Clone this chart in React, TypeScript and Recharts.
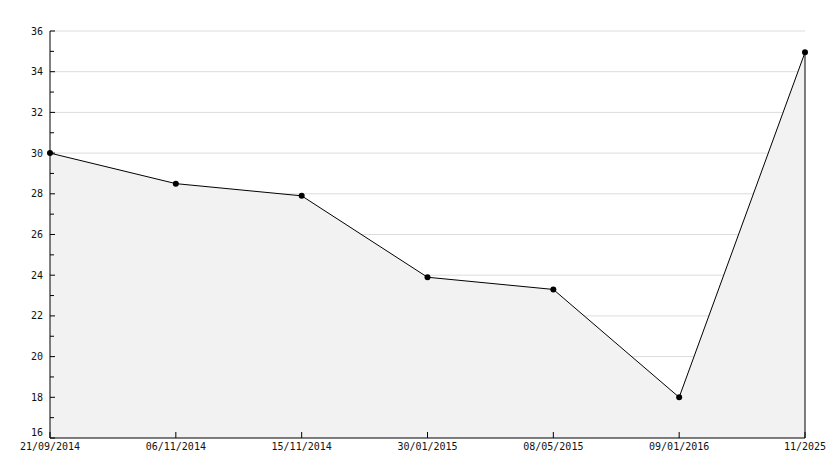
import { Area, AreaChart, CartesianGrid, ReferenceLine, XAxis, YAxis } from 'recharts'

const dates = ['21/09/2014', '06/11/2014', '15/11/2014', '30/01/2015', '08/05/2015', '09/01/2016', '11/2025']
const values = [30, 28.5, 27.9, 23.9, 23.3, 18, 34.95]
const yTicks = [16, 17, 18, 19, 20, 21, 22, 23, 24, 25, 26, 27, 28, 29, 30, 31, 32, 33, 34, 35, 36]
const gridValues = [18, 20, 22, 24, 26, 28, 30, 32, 34, 36]

const data = dates.map((d, i) => ({ date: d, value: values[i] }))
const last = data[data.length - 1]

const FONT = '"DejaVu Sans Mono", monospace'

function YTick(props: any) {
    const { x, y, payload } = props
    const v = payload.value as number
    const axisX = x + 7
    const major = v % 2 === 0
    return (
        <g>
            <line x1={axisX} x2={axisX + (major ? 5 : 4)} y1={y} y2={y} stroke="#000" />
            {major && (
                <text x={x} y={v === 16 ? y - 6 : y} dy="0.355em" textAnchor="end" fontSize={10} fontFamily={FONT} fill="#111">
                    {v}
                </text>
            )}
        </g>
    )
}

function XTick(props: any) {
    const { x, y, payload } = props
    const axisY = y - 5
    return (
        <g>
            <line x1={x} x2={x} y1={axisY} y2={axisY - 6} stroke="#000" />
            <text x={x} y={y} dy="0.71em" textAnchor="middle" fontSize={10} fontFamily={FONT} fill="#111">
                {payload.value}
            </text>
        </g>
    )
}

export default function App() {
    return (
        <div style={{ position: 'fixed', left: 0, top: 0, background: '#fff' }}>
            <AreaChart width={834} height={468} data={data} margin={{ top: 31, right: 29, bottom: 0, left: 0 }}>
                <CartesianGrid vertical={false} stroke="#dcdcdc" horizontalValues={gridValues} />
                <Area
                    type="linear"
                    dataKey="value"
                    stroke="#000"
                    strokeWidth={1}
                    fill="#f2f2f2"
                    fillOpacity={1}
                    baseValue={16}
                    dot={{ r: 3, fill: '#000', stroke: 'none' }}
                    activeDot={false}
                    isAnimationActive={false}
                />
                <ReferenceLine
                    segment={[{ x: last.date, y: 16 }, { x: last.date, y: last.value }]}
                    stroke="#000"
                    ifOverflow="visible"
                />
                <XAxis
                    dataKey="date"
                    height={30}
                    tickSize={0}
                    tickMargin={5}
                    tick={<XTick />}
                    interval={0}
                    axisLine={{ stroke: '#000' }}
                />
                <YAxis
                    type="number"
                    domain={[16, 36]}
                    ticks={yTicks}
                    interval={0}
                    width={50}
                    tickSize={0}
                    tickMargin={7}
                    tick={<YTick />}
                    axisLine={{ stroke: '#000' }}
                />
            </AreaChart>
        </div>
    )
}
